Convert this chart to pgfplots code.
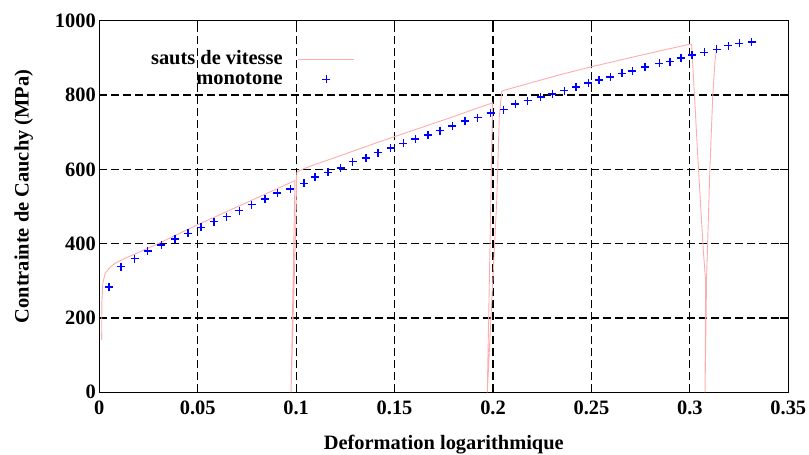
\documentclass[border=0pt]{standalone}
\usepackage{fontspec}
\setmainfont{Liberation Serif}
\usepackage{pgfplots}
\pgfplotsset{compat=1.18}

\definecolor{pinkline}{RGB}{255,172,172}
\definecolor{crossblue}{RGB}{0,0,255}

\newcommand{\gfont}{\fontsize{20.5}{24}\selectfont\bfseries}

\pgfplotsset{
  linelegend/.style={legend image code/.code={\draw[##1] (0bp,0bp) -- (56bp,0bp);}},
  marklegend/.style={legend image code/.code={\path (0bp,0bp) (56bp,0bp);
      \draw[##1] plot coordinates {(28bp,0bp)};}},
}

\begin{document}
\begin{tikzpicture}
\path[use as bounding box] (-99.3bp,-62.7bp) rectangle (709.7bp,392.3bp);
\begin{axis}[scale only axis,width=689bp,height=371.6bp,
  xmin=0,xmax=0.35,ymin=0,ymax=1000,
  xtick={0,0.05,0.1,0.15,0.2,0.25,0.3,0.35},
  xticklabels={0,0.05,0.1,0.15,0.2,0.25,0.3,0.35},
  ytick={0,200,400,600,800,1000},
  yticklabels={0,200,400,600,800,1000},
  tick label style={font=\gfont},
  x tick label style={yshift=-5bp},
  label style={font=\gfont},
  xlabel={Deformation logarithmique},
  ylabel={Contrainte de Cauchy (MPa)},
  xlabel style={at={(ticklabel cs:0.5,14bp)}},
  ylabel style={at={(ticklabel cs:0.527,15bp)}},
  axis line style={line width=1.4pt},
  major tick length=8bp,
  tick style={black,line width=1.2pt},
  grid=major,
  major grid style={black,line width=1.2pt,dash pattern=on 8bp off 4bp},
  legend style={draw=none,fill=none,font=\gfont,at={(0.376,0.929)},anchor=north east,
    legend cell align=right,row sep=0bp,column sep=14bp,
    nodes={inner sep=1bp,text height=14bp,text depth=4bp}},
  legend plot pos=right]

% essai avec sauts de vitesse
\addplot[pinkline,line width=0.9pt,mark=none,linelegend] coordinates {
(0.0012,141) (0.0013,240) (0.0018,295) (0.003,320) (0.005,334) (0.008,347) (0.012,358)
(0.018,372) (0.024,386) (0.03,400) (0.04,426) (0.05,451) (0.06,475) (0.07,499)
(0.08,523) (0.09,547) (0.0994,570)
(0.0974,0) (0.0998,450) (0.1003,592) (0.1030,600) (0.11,614) (0.12,632) (0.13,651)
(0.14,670) (0.15,688) (0.16,706) (0.17,724) (0.18,742) (0.19,761) (0.1998,779)
(0.1971,0) (0.2019,517) (0.2032,742) (0.2044,809) (0.2052,812) (0.22,834) (0.235,856)
(0.25,876) (0.275,907) (0.3001,937)
(0.3009,935) (0.3021,822) (0.3043,607) (0.3068,383) (0.3080,300) (0.3077,0)
(0.3085,311) (0.3102,607) (0.3116,795) (0.3128,894) (0.3136,926)};
\addlegendentry{sauts de vitesse}

% essai monotone
\addplot[crossblue,only marks,mark=+,mark size=4bp,line width=1.5pt,marklegend]
coordinates {
(0.0049,283) (0.0109,338) (0.0180,360) (0.0246,380) (0.0315,397) (0.0385,413)
(0.0451,428) (0.0517,444) (0.0583,459) (0.0647,473) (0.0711,489) (0.0774,505)
(0.0842,520) (0.0904,536) (0.0970,547) (0.1039,562) (0.1096,580) (0.1163,592)
(0.1226,604) (0.1287,621) (0.1355,631) (0.1416,645) (0.1480,657) (0.1544,670)
(0.1605,682) (0.1670,692) (0.1731,704) (0.1793,717) (0.1858,730) (0.1922,739)
(0.1988,751) (0.2054,761) (0.2114,776) (0.2176,785) (0.2242,794) (0.2301,803)
(0.2362,812) (0.2422,822) (0.2484,832) (0.2538,840) (0.2596,849) (0.2654,858)
(0.2708,865) (0.2772,876) (0.2845,885) (0.2899,890) (0.2955,900) (0.3012,908)
(0.3073,915) (0.3136,923) (0.3195,933) (0.3251,939) (0.3314,943)};
\addlegendentry{monotone}
\end{axis}
\end{tikzpicture}
\end{document}
